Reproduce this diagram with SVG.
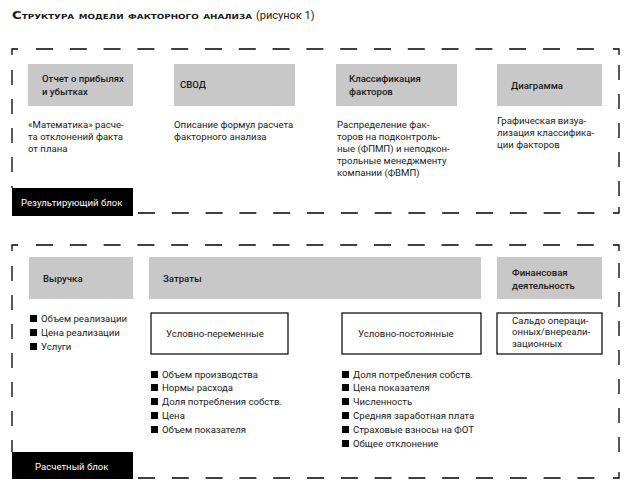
<svg xmlns="http://www.w3.org/2000/svg" width="626" height="487" viewBox="0 0 626 487">
<style>
text{font-family:Roboto,"Liberation Sans",sans-serif;fill:#1a1a1a}
.h{font-size:9.6px;font-weight:500}
.d{font-size:9.6px}
.w{font-size:9.6px;fill:#fff}
.g{fill:#c8c8c8}
.o{fill:#fff;stroke:#000;stroke-width:1.2}
.b{fill:#000}
.dash{fill:none;stroke:#000;stroke-width:1.3;stroke-dasharray:17 16.8}
.vd{fill:none;stroke:#000;stroke-width:1.3;stroke-dasharray:15 14}
.c{fill:none;stroke:#000;stroke-width:1.3}
</style>
<rect width="626" height="487" fill="#fff"/>
<g id="title">
<text x="12" y="19" textLength="240" lengthAdjust="spacingAndGlyphs" style="font-family:'DejaVu Sans',sans-serif;font-weight:bold;font-size:10.5px;font-variant:small-caps">Структура модели факторного анализа</text>
<text x="256" y="19" style="font-size:11px">(рисунок 1)</text>
</g>
<g id="connectors">
<path class="c" d="M12,55V49H18M613,49H619V55M619,207V213H613"/>
<path class="dash" d="M36,49H600M138,213H604"/>
<path class="vd" d="M619,65V200M12,70V188"/>
<path class="c" d="M12,251V245H18M613,245H619V251M619,472V478H613"/>
<path class="dash" d="M36,245H600M138,478H604"/>
<path class="vd" d="M619,263V465M12,266V452"/>
</g>
<g id="result-label">
<rect class="b" x="12" y="188" width="121" height="28"/>
<text class="w" x="21" y="206">Результирующий блок</text>
</g>
<g id="otchet">
<rect class="g" x="28" y="64" width="105" height="42"/>
<text class="h" x="42" y="82">Отчет о прибылях</text>
<text class="h" x="42" y="95">и убытках</text>
<text class="d" x="28" y="128">«Математика» расче-</text>
<text class="d" x="28" y="140">та отклонений факта</text>
<text class="d" x="28" y="152">от плана</text>
</g>
<g id="svod">
<rect class="g" x="174" y="64" width="121" height="42"/>
<text class="h" x="180" y="88">СВОД</text>
<text class="d" x="174" y="128">Описание формул расчета</text>
<text class="d" x="174" y="140">факторного анализа</text>
</g>
<g id="klassif">
<rect class="g" x="336" y="64" width="121" height="42"/>
<text class="h" x="349" y="82">Классификация</text>
<text class="h" x="349" y="95">факторов</text>
<text class="d" x="337" y="128">Распределение фак-</text>
<text class="d" x="337" y="140">торов на подконтроль-</text>
<text class="d" x="337" y="152">ные (ФПМП) и неподкон-</text>
<text class="d" x="337" y="164">трольные менеджменту</text>
<text class="d" x="337" y="176">компании (ФВМП)</text>
</g>
<g id="diagramma">
<rect class="g" x="497" y="64" width="105" height="42"/>
<text class="h" x="511" y="89">Диаграмма</text>
<text class="d" x="497" y="124">Графическая визуа-</text>
<text class="d" x="497" y="136">лизация классифика-</text>
<text class="d" x="497" y="148">ции факторов</text>
</g>
<g id="calc-label">
<rect class="b" x="12" y="452" width="121" height="27"/>
<text class="w" x="35" y="470">Расчетный блок</text>
</g>
<g id="vyruchka">
<rect class="g" x="29" y="257" width="104" height="42"/>
<text class="h" x="43" y="282">Выручка</text>
<rect class="b" x="30" y="315" width="7" height="7"/>
<text class="d" x="41" y="322">Объем реализации</text>
<rect class="b" x="30" y="329" width="7" height="7"/>
<text class="d" x="41" y="336">Цена реализации</text>
<rect class="b" x="30" y="343" width="7" height="7"/>
<text class="d" x="41" y="350">Услуги</text>
</g>
<g id="zatraty">
<rect class="g" x="149" y="257" width="332" height="42"/>
<text class="h" x="163" y="282">Затраты</text>
</g>
<g id="uslovno-perem">
<rect class="o" x="151" y="313" width="137" height="41"/>
<text class="d" x="166" y="337">Условно-переменные</text>
<rect class="b" x="151" y="371" width="7" height="7"/>
<text class="d" x="162" y="378">Объем производства</text>
<rect class="b" x="151" y="384" width="7" height="7"/>
<text class="d" x="162" y="391">Нормы расхода</text>
<rect class="b" x="151" y="398" width="7" height="7"/>
<text class="d" x="162" y="405">Доля потребления собств.</text>
<rect class="b" x="151" y="412" width="7" height="7"/>
<text class="d" x="162" y="419">Цена</text>
<rect class="b" x="151" y="426" width="7" height="7"/>
<text class="d" x="162" y="433">Объем показателя</text>
</g>
<g id="uslovno-post">
<rect class="o" x="342" y="313" width="139" height="41"/>
<text class="d" x="358" y="337">Условно-постоянные</text>
<rect class="b" x="342" y="371" width="7" height="7"/>
<text class="d" x="353" y="378">Доля потребления собств.</text>
<rect class="b" x="342" y="384" width="7" height="7"/>
<text class="d" x="353" y="391">Цена показателя</text>
<rect class="b" x="342" y="398" width="7" height="7"/>
<text class="d" x="353" y="405">Численность</text>
<rect class="b" x="342" y="412" width="7" height="7"/>
<text class="d" x="353" y="419">Средняя заработная плата</text>
<rect class="b" x="342" y="426" width="7" height="7"/>
<text class="d" x="353" y="433">Страховые взносы на ФОТ</text>
<rect class="b" x="342" y="440" width="7" height="7"/>
<text class="d" x="353" y="447">Общее отклонение</text>
</g>
<g id="finans">
<rect class="g" x="497" y="257" width="105" height="42"/>
<text class="h" x="512" y="276">Финансовая</text>
<text class="h" x="512" y="289">деятельность</text>
<rect class="o" x="497" y="313" width="105" height="41"/>
<text class="d" x="512" y="324">Сальдо операци-</text>
<text class="d" x="512" y="335">онных/внереали-</text>
<text class="d" x="512" y="347">зационных</text>
</g>
</svg>
